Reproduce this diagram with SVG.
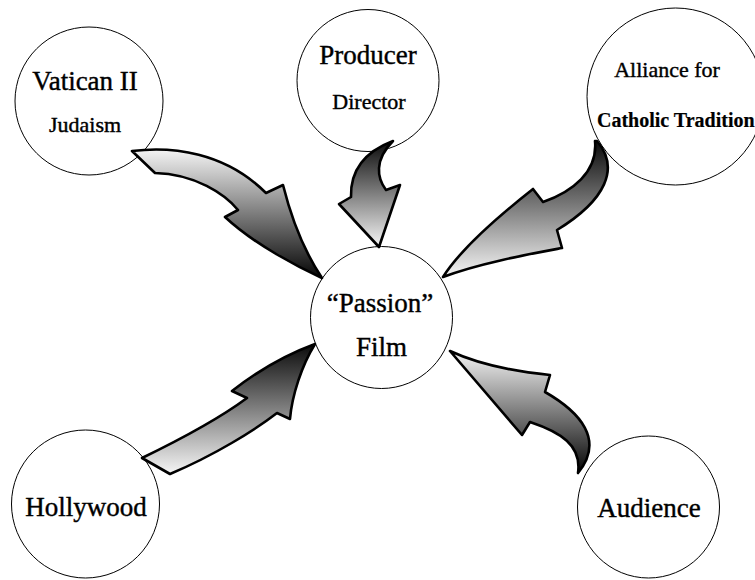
<svg xmlns="http://www.w3.org/2000/svg" width="755" height="580" viewBox="0 0 755 580">
<style>
.node circle{fill:#fff;stroke:#000;stroke-width:1}
text{font-family:'Liberation Serif','DejaVu Serif',serif;fill:#000;stroke:#000;stroke-width:0.4}
.big{font-size:27px;text-anchor:middle}
.small{font-size:22px;text-anchor:middle}
.bold{font-size:20px;font-weight:bold;stroke-width:0.2}
.arrow{stroke:#000;stroke-width:2.6;stroke-linejoin:round}
</style>
<defs>
<linearGradient id="lightTop" x1="0" y1="0" x2="0" y2="1">
<stop offset="0" stop-color="#f4f4f4"/>
<stop offset="1" stop-color="#050505"/>
</linearGradient>
<linearGradient id="darkTop" x1="0" y1="0" x2="0" y2="1">
<stop offset="0" stop-color="#0a0a0a"/>
<stop offset="1" stop-color="#f6f6f6"/>
</linearGradient>
</defs>
<rect width="755" height="580" fill="#fff"/>
<g font-family="Liberation Serif, serif">
<g id="vatican" class="node">
<circle cx="89" cy="101" r="74"/>
<text class="big" x="85" y="90">Vatican II</text>
<text class="small" x="85" y="132">Judaism</text>
</g>
<g id="producer" class="node">
<circle cx="368" cy="80.5" r="71"/>
<text class="big" x="368" y="64">Producer</text>
<text class="small" x="369" y="109">Director</text>
</g>
<g id="alliance" class="node">
<circle cx="675.5" cy="96.5" r="88.5"/>
<text class="small" x="667" y="77">Alliance for</text>
<text class="bold" x="597" y="127">Catholic Tradition</text>
</g>
<g id="passion" class="node">
<circle cx="381.5" cy="317.5" r="71"/>
<text class="big" x="380" y="312">“Passion”</text>
<text class="big" x="381.5" y="356">Film</text>
</g>
<g id="hollywood" class="node">
<circle cx="85.5" cy="504" r="74"/>
<text class="big" x="86" y="516">Hollywood</text>
</g>
<g id="audience" class="node">
<circle cx="648.5" cy="507" r="71"/>
<text class="big" x="649" y="517">Audience</text>
</g>
</g>
<g id="connectors">
<path class="arrow" fill="url(#lightTop)" d="M132,151 C172,146 225,152 266,193 L283,185 C288,205 300,245 322,278 C300,268 255,245 225,217 L238,210 C225,194 195,174 155,173 Z"/>
<path class="arrow" fill="url(#darkTop)" d="M393,141 C372,149 350,165 351,197 L339,204 L379,247 L400,185 L386,190 C377,178 374,160 393,141 Z"/>
<path class="arrow" fill="url(#darkTop)" d="M597,141 C620,168 606,200 557,230 L562,248 C530,254 480,263 443,277 C460,250 500,215 533,189 L543,202 C572,192 598,172 595,141 Z"/>
<path class="arrow" fill="url(#darkTop)" d="M142,458 C175,442 220,418 247,398 L232,391 C255,373 285,355 315,344 C302,365 292,395 290,419 L277,413 C255,430 215,455 170,474 Z"/>
<path class="arrow" fill="url(#lightTop)" d="M450,351 C480,365 520,372 550,375 L545,392 C580,412 605,440 578,473 C582,445 560,432 530,422 L522,435 Z"/>
</g>
</svg>
